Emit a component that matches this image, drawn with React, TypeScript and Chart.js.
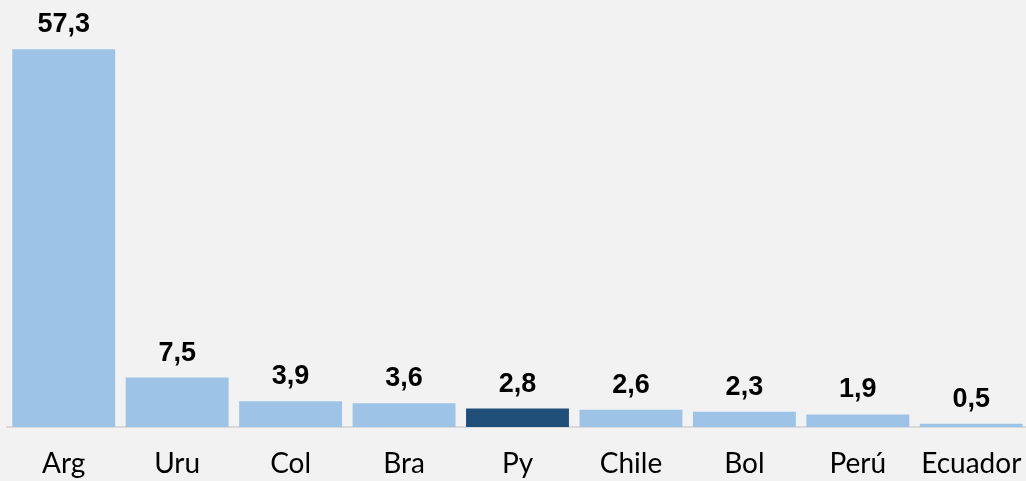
import React, { useEffect, useRef } from "react";
import { Chart, registerables } from "chart.js";

Chart.register(...registerables);

const categories = ["Arg", "Uru", "Col", "Bra", "Py", "Chile", "Bol", "Perú", "Ecuador"];
const values = [57.3, 7.5, 3.9, 3.6, 2.8, 2.6, 2.3, 1.9, 0.5];
const highlight = "Py";

const LIGHT = "#9dc3e6";
const DARK = "#1f4e79";

const valueLabels = {
  id: "valueLabels",
  afterDatasetsDraw(chart: any) {
    const ctx = chart.ctx;
    const meta = chart.getDatasetMeta(0);
    ctx.save();
    ctx.font = "bold 27px 'Liberation Sans', Arial, sans-serif";
    ctx.fillStyle = "#000000";
    ctx.textAlign = "center";
    ctx.textBaseline = "alphabetic";
    meta.data.forEach((bar: any, i: number) => {
      const txt = values[i].toFixed(1).replace(".", ",");
      ctx.fillText(txt, bar.x, bar.y - 17);
    });
    ctx.restore();
  },
};

export default function App() {
  const ref = useRef<HTMLCanvasElement | null>(null);
  useEffect(() => {
    if (!ref.current) return;
    const chart = new Chart(ref.current, {
      type: "bar",
      data: {
        labels: categories,
        datasets: [
          {
            data: values,
            backgroundColor: categories.map((c) => (c === highlight ? DARK : LIGHT)),
            barPercentage: 0.907,
            categoryPercentage: 1,
          },
        ],
      },
      options: {
        animation: false,
        responsive: false,
        maintainAspectRatio: false,
        layout: { padding: { left: 7, right: 20, top: 5, bottom: 0 } },
        plugins: { legend: { display: false }, tooltip: { enabled: false } },
        scales: {
          x: {
            grid: { display: false, drawTicks: false },
            border: { display: true, color: "#d9d9d9", width: 2 },
            ticks: {
              color: "#000000",
              padding: 20,
              maxRotation: 0,
              autoSkip: false,
              font: { family: "Lato, 'Open Sans', sans-serif", size: 28 },
            },
            afterFit: (scale: any) => {
              scale.height = 54;
            },
          },
          y: {
            display: false,
            min: 0,
            max: 64,
          },
        },
      },
      plugins: [valueLabels],
    });
    return () => chart.destroy();
  }, []);
  return (
    <div
      style={{
        position: "absolute",
        left: 0,
        top: 0,
        width: 1026,
        height: 481,
        overflow: "hidden",
        background: "#f2f2f2",
      }}
    >
      <canvas ref={ref} width={1048} height={481} style={{ display: "block", width: 1048, height: 481 }} />
    </div>
  );
}
